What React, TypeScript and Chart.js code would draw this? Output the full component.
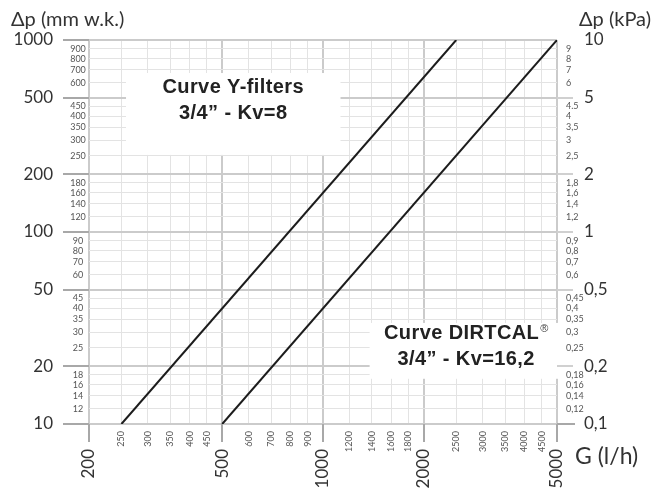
import React, { useEffect, useRef } from "react";
import { Chart, registerables } from "chart.js";

Chart.register(...registerables);

// ---- data ----
const flowMajor = [200, 500, 1000, 2000, 5000];
const flowMinor = [250, 300, 350, 400, 450, 600, 700, 800, 900, 1200, 1400, 1600, 1800, 2500, 3000, 3500, 4000, 4500];
const headMajor = [10, 20, 50, 100, 200, 500, 1000];
const headMinor = [12, 14, 16, 18, 25, 30, 35, 40, 45, 60, 70, 80, 90, 120, 140, 160, 180, 250, 300, 350, 400, 450, 600, 700, 800, 900];
const kpaMajor = [0.1, 0.2, 0.5, 1, 2, 5, 10];
const kpaMajorLabels = ["0,1", "0,2", "0,5", "1", "2", "5", "10"];
const kpaMinor = [0.12, 0.14, 0.16, 0.18, 0.25, 0.3, 0.35, 0.4, 0.45, 0.6, 0.7, 0.8, 0.9, 1.2, 1.4, 1.6, 1.8, 2.5, 3, 3.5, 4, 4.5, 6, 7, 8, 9];
const kpaMinorLabels = ["0,12", "0,14", "0,16", "0,18", "0,25", "0,3", "0,35", "0,4", "0,45", "0,6", "0,7", "0,8", "0,9", "1,2", "1,4", "1,6", "1,8", "2,5", "3", "3,5", "4", "4.5", "6", "7", "8", "9"];

const yFilterFlow = [250, 2500];
const yFilterDp = [10, 1000];
const dirtcalFlow = [500, 5000];
const dirtcalDp = [10, 1000];

const leftTitle = "\u0394p (mm w.k.)";
const rightTitle = "\u0394p (kPa)";
const bottomTitle = "G (l/h)";

const notes = [
  { g0: 258, g1: 1128, p0: 252, p1: 673, lines: ["Curve Y-filters", "3/4\u201D - Kv=8"], mark: "", first: 20, gap: 26 },
  { g0: 1378, g1: 5200, p0: 17.2, p1: 33.6, lines: ["Curve DIRTCAL", "3/4\u201D - Kv=16,2"], mark: "\u00AE", first: 16, gap: 26 },
];

const AXIS_FONT = "Lato, 'Noto Sans', sans-serif";
const NOTE_FONT = "'Liberation Sans', Arial, sans-serif";

const pts = (xs: number[], ys: number[]) => xs.map((x, i) => ({ x, y: ys[i] }));

const decor = {
  id: "decor",
  beforeDatasetsDraw(chart: any) {
    const { ctx, chartArea: a, scales } = chart;
    const xs = scales.x;
    const ys = scales.y;
    const ks = scales.kpa;
    ctx.save();

    // white note boxes
    for (const n of notes) {
      const l = xs.getPixelForValue(n.g0);
      const r = xs.getPixelForValue(n.g1);
      const t = ys.getPixelForValue(n.p1);
      const b = ys.getPixelForValue(n.p0);
      ctx.fillStyle = "#ffffff";
      ctx.fillRect(l, t, r - l, b - t);
      const cx = (l + r) / 2;
      ctx.fillStyle = "#222222";
      ctx.textBaseline = "alphabetic";
      n.lines.forEach((line, i) => {
        ctx.font = `bold 20px ${NOTE_FONT}`;
        ctx.letterSpacing = "0.4px";
        const w = ctx.measureText(line).width;
        let mw = 0;
        if (i === 0 && n.mark) {
          ctx.font = `11px ${NOTE_FONT}`;
          ctx.letterSpacing = "0px";
          mw = ctx.measureText(n.mark).width + 1;
        }
        const sx = cx - (w + mw) / 2;
        const by = t + n.first + i * n.gap;
        ctx.font = `bold 20px ${NOTE_FONT}`;
        ctx.letterSpacing = "0.4px";
        ctx.textAlign = "left";
        ctx.fillText(line, sx, by);
        ctx.letterSpacing = "0px";
        if (i === 0 && n.mark) {
          ctx.font = `11px ${NOTE_FONT}`;
          ctx.fillStyle = "#444";
          ctx.fillText(n.mark, sx + w + 1, by - 7);
          ctx.fillStyle = "#222222";
        }
      });
    }

    // outer tick marks
    ctx.lineWidth = 2;
    ctx.strokeStyle = "#a8a8a8";
    for (const v of headMajor) {
      const y = Math.round(ys.getPixelForValue(v));
      ctx.beginPath();
      ctx.moveTo(a.left - 26, y);
      ctx.lineTo(a.left, y);
      ctx.stroke();
    }
    for (const v of flowMajor) {
      const x = Math.round(xs.getPixelForValue(v));
      ctx.beginPath();
      ctx.moveTo(x, a.bottom);
      ctx.lineTo(x, a.bottom + 18);
      ctx.stroke();
    }
    kpaMajor.forEach((v, i) => {
      if (i === kpaMajor.length - 1) return;
      const y = Math.round(ks.getPixelForValue(v));
      ctx.strokeStyle = i === 0 ? "#a8a8a8" : "#d0d0d0";
      ctx.beginPath();
      ctx.moveTo(a.right, y);
      ctx.lineTo(a.right + (i === 0 ? 18 : 16), y);
      ctx.stroke();
    });

    // left labels
    ctx.textBaseline = "middle";
    ctx.fillStyle = "#333";
    ctx.font = `17px ${AXIS_FONT}`;
    ctx.textAlign = "right";
    for (const v of headMajor) ctx.fillText(String(v), a.left - 36, ys.getPixelForValue(v));
    ctx.fillStyle = "#555";
    ctx.font = `9px ${AXIS_FONT}`;
    ctx.textAlign = "center";
    for (const v of headMinor) ctx.fillText(String(v), a.left - 11, ys.getPixelForValue(v));

    // right labels
    ctx.textAlign = "left";
    kpaMinor.forEach((v, i) => ctx.fillText(kpaMinorLabels[i], a.right + 9, ks.getPixelForValue(v)));
    ctx.fillStyle = "#333";
    ctx.font = `17px ${AXIS_FONT}`;
    kpaMajor.forEach((v, i) => ctx.fillText(kpaMajorLabels[i], a.right + 27, ks.getPixelForValue(v)));

    // bottom labels (rotated)
    ctx.textAlign = "right";
    for (const v of flowMinor) {
      ctx.save();
      ctx.translate(xs.getPixelForValue(v), a.bottom + 7);
      ctx.rotate(-Math.PI / 2);
      ctx.fillStyle = "#555";
      ctx.font = `9px ${AXIS_FONT}`;
      ctx.fillText(String(v), 0, 0);
      ctx.restore();
    }
    for (const v of flowMajor) {
      ctx.save();
      ctx.translate(xs.getPixelForValue(v), a.bottom + 25);
      ctx.rotate(-Math.PI / 2);
      ctx.fillStyle = "#333";
      ctx.font = `17px ${AXIS_FONT}`;
      ctx.fillText(String(v), 0, 0);
      ctx.restore();
    }

    // titles
    ctx.textBaseline = "alphabetic";
    ctx.textAlign = "left";
    ctx.fillStyle = "#333";
    ctx.font = `20px ${AXIS_FONT}`;
    ctx.fillText(leftTitle, 11, 26);
    ctx.fillText(rightTitle, a.right + 22, 26);
    ctx.font = `23px ${AXIS_FONT}`;
    ctx.fillText(bottomTitle, a.right + 18, a.bottom + 40);

    ctx.restore();
  },
};

const gridColor = (majors: number[]) => (c: any) =>
  c.tick && majors.includes(c.tick.value) ? "#cbcbcb" : "#e3e3e3";
const gridWidth = (majors: number[]) => (c: any) =>
  c.tick && majors.includes(c.tick.value) ? 2 : 1;

export default function App() {
  const ref = useRef<HTMLCanvasElement | null>(null);

  useEffect(() => {
    if (!ref.current) return;
    const chart = new Chart(ref.current, {
      type: "scatter",
      data: {
        datasets: [
          {
            label: "Curve Y-filters 3/4\u201D - Kv=8",
            data: pts(yFilterFlow, yFilterDp),
            showLine: true,
            borderColor: "#1c1c1c",
            borderWidth: 2,
            pointRadius: 0,
          },
          {
            label: "Curve DIRTCAL\u00AE 3/4\u201D - Kv=16,2",
            data: pts(dirtcalFlow, dirtcalDp),
            showLine: true,
            borderColor: "#1c1c1c",
            borderWidth: 2,
            pointRadius: 0,
          },
        ],
      },
      options: {
        animation: false,
        responsive: false,
        devicePixelRatio: 1,
        layout: { padding: { left: 89, right: 104, top: 40, bottom: 64 } },
        plugins: { legend: { display: false }, tooltip: { enabled: false } },
        scales: {
          x: {
            type: "logarithmic",
            position: "bottom",
            min: 200,
            max: 5000,
            afterBuildTicks: (s: any) => {
              s.ticks = [...flowMajor, ...flowMinor].sort((p, q) => p - q).map((v) => ({ value: v }));
            },
            afterFit: (s: any) => {
              s.height = 0;
            },
            ticks: { display: false },
            border: { display: false },
            grid: { drawTicks: false, color: gridColor(flowMajor), lineWidth: gridWidth(flowMajor) },
          },
          y: {
            type: "logarithmic",
            position: "left",
            min: 10,
            max: 1000,
            afterBuildTicks: (s: any) => {
              s.ticks = [...headMajor, ...headMinor].sort((p, q) => p - q).map((v) => ({ value: v }));
            },
            afterFit: (s: any) => {
              s.width = 0;
            },
            ticks: { display: false },
            border: { display: false },
            grid: { drawTicks: false, color: gridColor(headMajor), lineWidth: gridWidth(headMajor) },
          },
          kpa: {
            type: "logarithmic",
            position: "right",
            min: 0.1,
            max: 10,
            display: false,
          },
        },
      },
      plugins: [decor],
    } as any);
    return () => chart.destroy();
  }, []);

  return (
    <div style={{ position: "absolute", left: 0, top: 0, width: 661, height: 488, background: "#fff" }}>
      <canvas ref={ref} width={661} height={488} />
    </div>
  );
}
